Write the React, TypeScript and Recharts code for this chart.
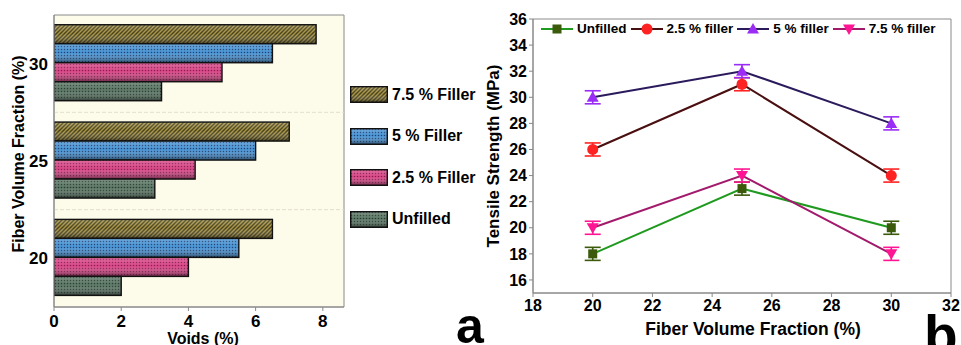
import React from 'react';
import {
  BarChart, Bar, XAxis, YAxis, ReferenceArea, ReferenceLine,
  LineChart, Line, ErrorBar, Label,
} from 'recharts';

// ---------- Panel a data ----------
const fiberCategories = ['20', '25', '30'];
const voidsUnfilled = [2.0, 3.0, 3.2];
const voids25 = [4.0, 4.2, 5.0];
const voids5 = [5.5, 6.0, 6.5];
const voids75 = [6.5, 7.0, 7.8];
const voidTicks = [0, 2, 4, 6, 8];
const voidMax = 8.63;

// ---------- Panel b data ----------
const fiberFractions = [20, 25, 30];
const tsUnfilled = [18, 23, 20];
const ts25 = [26, 31, 24];
const ts5 = [30, 32, 28];
const ts75 = [20, 24, 18];
const tsErrUnfilled = [0.5, 0.5, 0.5];
const tsErr25 = [0.5, 0.5, 0.5];
const tsErr5 = [0.5, 0.5, 0.5];
const tsErr75 = [0.5, 0.5, 0.5];
const fiberTicks = [18, 20, 22, 24, 26, 28, 30, 32];
const tsTicks = [16, 18, 20, 22, 24, 26, 28, 30, 32, 34, 36];

const barData = fiberCategories.map((c, i) => ({
  cat: c,
  unf: voidsUnfilled[i],
  f25: voids25[i],
  f5: voids5[i],
  f75: voids75[i],
}));

const lineData = fiberFractions.map((x, i) => ({
  x,
  unf: tsUnfilled[i],
  f25: ts25[i],
  f5: ts5[i],
  f75: ts75[i],
  unfErr: tsErrUnfilled[i],
  f25Err: tsErr25[i],
  f5Err: tsErr5[i],
  f75Err: tsErr75[i],
}));

const FONT = '"Liberation Sans", Arial, sans-serif';

const barSeries = [
  { key: 'f75', name: '7.5 % Filler', pid: 'pat75' },
  { key: 'f5', name: '5 % Filler', pid: 'pat5' },
  { key: 'f25', name: '2.5 % Filler', pid: 'pat25' },
  { key: 'unf', name: 'Unfilled', pid: 'patU' },
];

const lineSeries = [
  { key: 'unf', name: 'Unfilled', line: '#1f9a1f', mark: '#3b5a0c', shape: 'square' },
  { key: 'f25', name: '2.5 % filler', line: '#4a0f10', mark: '#ff2222', shape: 'circle' },
  { key: 'f5', name: '5 % filler', line: '#2b1a5c', mark: '#9a2cf5', shape: 'up' },
  { key: 'f75', name: '7.5 % filler', line: '#a21a6c', mark: '#ff1493', shape: 'down' },
];

function Marker({ cx, cy, shape, color }: any) {
  if (cx == null || cy == null) return null;
  if (shape === 'square') return <rect x={cx - 4.5} y={cy - 4.5} width={9} height={9} fill={color} />;
  if (shape === 'circle') return <circle cx={cx} cy={cy} r={5.5} fill={color} />;
  if (shape === 'up') return <path d={`M${cx},${cy - 6} L${cx + 6},${cy + 4.5} L${cx - 6},${cy + 4.5} Z`} fill={color} />;
  return <path d={`M${cx},${cy + 6} L${cx + 6},${cy - 4.5} L${cx - 6},${cy - 4.5} Z`} fill={color} />;
}

function makeBarShape(pid: string) {
  return (p: any) => {
    const { x, y, width, height } = p;
    if (width == null || width <= 0) return <g />;
    return (
      <g>
        <rect x={x} y={y} width={width} height={height} fill={`url(#${pid})`} />
        <rect x={x} y={y} width={width} height={height} fill="url(#shadeGrad)" />
        <rect x={x} y={y} width={width} height={height} fill="none" stroke="#111" strokeWidth={1.4} />
      </g>
    );
  };
}

function Defs() {
  return (
    <svg width={0} height={0} style={{ position: 'absolute' }}>
      <defs>
        <pattern id="pat75" patternUnits="userSpaceOnUse" width={4} height={4}>
          <rect width={4} height={4} fill="#46401a" />
          <path d="M0,4 L4,0 M-1,1 L1,-1 M3,5 L5,3" stroke="#a89444" strokeWidth={1.4} />
        </pattern>
        <pattern id="pat5" patternUnits="userSpaceOnUse" width={3} height={3}>
          <rect width={3} height={3} fill="#4a94d4" />
          <circle cx={1.5} cy={1.5} r={0.75} fill="#1b3f72" />
        </pattern>
        <pattern id="pat25" patternUnits="userSpaceOnUse" width={3} height={3}>
          <rect width={3} height={3} fill="#d84888" />
          <circle cx={1.5} cy={1.5} r={0.75} fill="#8a1a4c" />
        </pattern>
        <pattern id="patU" patternUnits="userSpaceOnUse" width={3} height={3}>
          <rect width={3} height={3} fill="#5c7866" />
          <circle cx={1.5} cy={1.5} r={0.75} fill="#25352b" />
        </pattern>
        <linearGradient id="shadeGrad" x1="0" y1="0" x2="0" y2="1">
          <stop offset="0" stopColor="#ffffff" stopOpacity={0.2} />
          <stop offset="0.45" stopColor="#ffffff" stopOpacity={0} />
          <stop offset="1" stopColor="#000000" stopOpacity={0.5} />
        </linearGradient>
      </defs>
    </svg>
  );
}

const tickA = { fill: '#000', fontSize: 17, fontWeight: 700, fontFamily: FONT };
const tickB = { fill: '#000', fontSize: 16, fontWeight: 700, fontFamily: FONT };

function PanelA() {
  return (
    <BarChart
      width={345}
      height={345}
      data={barData}
      layout="vertical"
      margin={{ top: 15, right: 1, bottom: 0, left: 0 }}
      barCategoryGap="10%"
      barGap={0}
    >
      <XAxis
        type="number"
        domain={[0, voidMax]}
        ticks={voidTicks}
        allowDataOverflow
        height={38}
        axisLine={{ stroke: '#888' }}
        tickLine={{ stroke: '#888' }}
        tickSize={4}
        tickMargin={4}
        tick={tickA}
      >
        <Label
          content={({ viewBox }: any) => (
            <text
              x={viewBox.x + viewBox.width / 2 + 4}
              y={viewBox.y + 37}
              textAnchor="middle"
              fontSize={16}
              fontWeight={700}
              fontFamily={FONT}
              fill="#000"
            >
              Voids (%)
            </text>
          )}
        />
      </XAxis>
      <YAxis
        type="category"
        dataKey="cat"
        reversed
        width={54}
        axisLine={{ stroke: '#888' }}
        tickLine={false}
        tickSize={4}
        tickMargin={2}
        tick={tickA}
      >
        <Label
          content={({ viewBox }: any) => {
            const cx = 18;
            const cy = viewBox.y + viewBox.height / 2 - 7;
            return (
              <text
                x={cx}
                y={cy}
                transform={`rotate(-90, ${cx}, ${cy})`}
                textAnchor="middle"
                dominantBaseline="central"
                fontSize={16}
                fontWeight={700}
                fontFamily={FONT}
                fill="#000"
              >
                Fiber Volume Fraction (%)
              </text>
            );
          }}
        />
      </YAxis>
      <ReferenceArea
        x1={0}
        x2={voidMax}
        fill="#fdfbea"
        fillOpacity={1}
        stroke="#8a8a8a"
        strokeWidth={1}
        ifOverflow="visible"
      />
      <ReferenceLine y="25" position="start" stroke="#e2ded0" strokeDasharray="4 2" />
      <ReferenceLine y="25" position="end" stroke="#e2ded0" strokeDasharray="4 2" />
      {barSeries.map((s) => (
        <Bar
          key={s.key}
          dataKey={s.key}
          name={s.name}
          isAnimationActive={false}
          shape={makeBarShape(s.pid)}
        />
      ))}
    </BarChart>
  );
}

function LegendA() {
  return (
    <div style={{ position: 'absolute', left: 350, top: 86, fontFamily: FONT }}>
      {barSeries.map((s) => (
        <div key={s.key} style={{ display: 'flex', alignItems: 'center', height: 17, marginBottom: 24.5 }}>
          <svg width={38} height={17} style={{ display: 'block' }}>
            <rect x={0.7} y={0.7} width={36.6} height={15.6} fill={`url(#${s.pid})`} />
            <rect x={0.7} y={0.7} width={36.6} height={15.6} fill="url(#shadeGrad)" />
            <rect x={0.7} y={0.7} width={36.6} height={15.6} fill="none" stroke="#111" strokeWidth={1.4} />
          </svg>
          <span style={{ marginLeft: 4, fontSize: 16, fontWeight: 700, color: '#000', whiteSpace: 'nowrap' }}>
            {s.name}
          </span>
        </div>
      ))}
    </div>
  );
}

function PanelB() {
  return (
    <LineChart
      width={481}
      height={345}
      data={lineData}
      margin={{ top: 19, right: 10, bottom: 0, left: 0 }}
    >
      <ReferenceArea
        x1={18}
        x2={32}
        y1={15}
        y2={36}
        fill="none"
        stroke="#8a8a8a"
        strokeWidth={1}
        ifOverflow="visible"
      />
      <XAxis
        type="number"
        dataKey="x"
        domain={[18, 32]}
        ticks={fiberTicks}
        allowDataOverflow
        height={52}
        axisLine={{ stroke: '#888' }}
        tickLine={{ stroke: '#888' }}
        tickSize={4}
        tickMargin={3}
        tick={tickB}
      >
        <Label
          content={({ viewBox }: any) => (
            <text
              x={viewBox.x + viewBox.width / 2 + 11}
              y={viewBox.y + 42}
              textAnchor="middle"
              fontSize={17.5}
              fontWeight={700}
              fontFamily={FONT}
              fill="#000"
            >
              Fiber Volume Fraction (%)
            </text>
          )}
        />
      </XAxis>
      <YAxis
        type="number"
        domain={[15, 36]}
        ticks={tsTicks}
        allowDataOverflow
        width={53}
        axisLine={{ stroke: '#888' }}
        tickLine={{ stroke: '#888' }}
        tickSize={4}
        tickMargin={2}
        tick={tickB}
      >
        <Label
          content={({ viewBox }: any) => {
            const cx = 13;
            const cy = viewBox.y + viewBox.height / 2;
            return (
              <text
                x={cx}
                y={cy}
                transform={`rotate(-90, ${cx}, ${cy})`}
                textAnchor="middle"
                dominantBaseline="central"
                fontSize={17}
                fontWeight={700}
                fontFamily={FONT}
                fill="#000"
              >
                Tensile Strength (MPa)
              </text>
            );
          }}
        />
      </YAxis>
      {lineSeries.map((s) => (
        <Line
          key={s.key}
          type="linear"
          dataKey={s.key}
          name={s.name}
          stroke={s.line}
          strokeWidth={2}
          isAnimationActive={false}
          dot={(p: any) => <Marker key={`${s.key}-${p.index}`} cx={p.cx} cy={p.cy} shape={s.shape} color={s.mark} />}
          activeDot={false}
        >
          <ErrorBar dataKey={`${s.key}Err`} width={8} stroke={s.mark} strokeWidth={1.6} direction="y" />
        </Line>
      ))}
    </LineChart>
  );
}

function LegendB() {
  return (
    <div
      style={{
        position: 'absolute',
        left: 541,
        top: 21,
        display: 'flex',
        alignItems: 'center',
        fontFamily: FONT,
        fontSize: 13.5,
        fontWeight: 700,
        color: '#000',
        whiteSpace: 'nowrap',
      }}
    >
      {lineSeries.map((s) => (
        <div key={s.key} style={{ display: 'flex', alignItems: 'center', marginRight: 4 }}>
          <svg width={32} height={14} style={{ display: 'block' }}>
            <line x1={0} y1={7} x2={32} y2={7} stroke={s.line} strokeWidth={2} />
            <Marker cx={16} cy={7} shape={s.shape} color={s.mark} />
          </svg>
          <span style={{ marginLeft: 4 }}>{s.name}</span>
        </div>
      ))}
    </div>
  );
}

export default function App() {
  return (
    <div
      style={{
        position: 'absolute',
        left: 0,
        top: 0,
        width: 961,
        height: 345,
        background: '#fff',
        overflow: 'hidden',
      }}
    >
      <Defs />
      <div style={{ position: 'absolute', left: 0, top: 0 }}>
        <PanelA />
      </div>
      <LegendA />
      <div style={{ position: 'absolute', left: 480, top: 0 }}>
        <PanelB />
      </div>
      <LegendB />
      <svg width={961} height={345} style={{ position: 'absolute', left: 0, top: 0, pointerEvents: 'none' }}>
        <text x={456} y={343} fontSize={50} fontWeight={700} fontFamily={FONT} fill="#000">a</text>
        <text x={924} y={354} fontSize={55} fontWeight={700} fontFamily={FONT} fill="#000">b</text>
      </svg>
    </div>
  );
}
